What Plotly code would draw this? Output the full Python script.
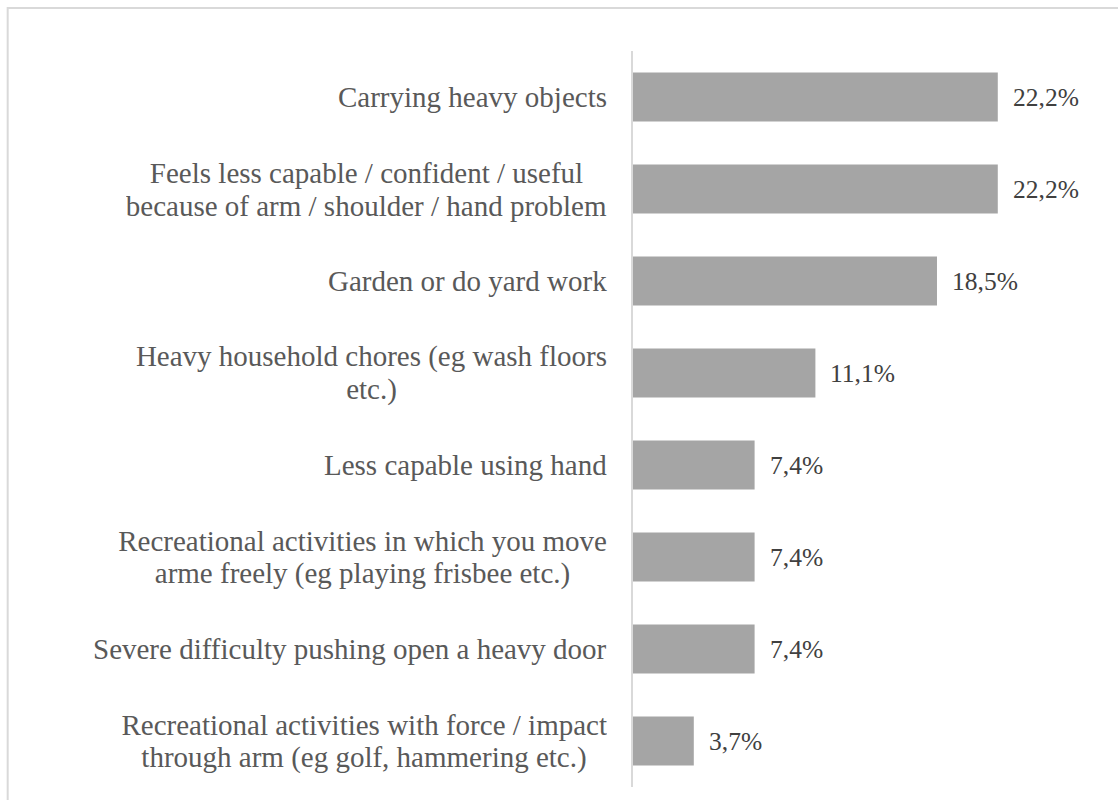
import plotly.graph_objects as go

# Share of respondents reporting each limitation (%)
categories = [
    "Carrying heavy objects",
    "Feels less capable / confident / useful<br>because of arm / shoulder / hand problem",
    "Garden or do yard work",
    "Heavy household chores (eg wash floors<br>etc.)",
    "Less capable using hand",
    "Recreational activities in which you move<br>arme freely (eg playing frisbee etc.)",
    "Severe difficulty pushing open a heavy door",
    "Recreational activities with force / impact<br>through arm (eg golf, hammering etc.)",
]
values = [22.2, 22.2, 18.5, 11.1, 7.4, 7.4, 7.4, 3.7]

FONT = "Liberation Serif"
BAR_COLOR = "#a5a5a5"
LINE_COLOR = "#d9d9d9"
CAT_SIZE = 29
VAL_SIZE = 25.5
LINE_GAP = 16.5          # half the distance between wrapped label lines (px)
LABEL_RIGHT_SHIFT = -24  # label block right edge relative to the axis (px)
# approximate rendered width of the widest line in each wrapped label (px)
WRAP_WIDTH = {1: 481, 3: 471, 5: 489, 7: 486}

fig = go.Figure(
    go.Bar(
        x=values,
        y=list(range(len(categories))),
        orientation="h",
        marker=dict(color=BAR_COLOR, line=dict(width=0)),
        hoverinfo="skip",
    )
)

cat_font = dict(family=FONT, size=CAT_SIZE, color="#595959")
annotations = []
# Category labels: right edge next to the axis, wrapped lines centred on each other
for i, cat in enumerate(categories):
    lines = cat.split("<br>")
    if len(lines) == 1:
        annotations.append(
            dict(
                x=0, xref="paper", y=i, yref="y", text=cat, showarrow=False,
                xanchor="right", yanchor="middle", xshift=LABEL_RIGHT_SHIFT,
                font=cat_font,
            )
        )
        continue
    longest = max(range(len(lines)), key=lambda k: len(lines[k]))
    n = len(lines)
    for k, line in enumerate(lines):
        annotations.append(
            dict(
                x=0, xref="paper", y=i, yref="y", text=line, showarrow=False,
                xanchor="right", yanchor="middle",
                width=WRAP_WIDTH[i],
                align="right" if k == longest else "center",
                xshift=LABEL_RIGHT_SHIFT,
                yshift=LINE_GAP * (n - 1 - 2 * k),
                font=cat_font,
            )
        )
# Value labels just past the end of each bar
for i, v in enumerate(values):
    annotations.append(
        dict(
            x=v, xref="x", y=i, yref="y",
            text=f"{v:.1f}".replace(".", ",") + "%",
            showarrow=False,
            xanchor="left", yanchor="middle",
            xshift=13,
            font=dict(family=FONT, size=VAL_SIZE, color="#404040"),
        )
    )

fig.update_layout(
    width=1118,
    height=800,
    margin=dict(l=633, r=18, t=51, b=13),
    paper_bgcolor="white",
    plot_bgcolor="white",
    bargap=0.47,
    showlegend=False,
    annotations=annotations,
    shapes=[
        # chart frame
        dict(
            type="rect", xref="paper", yref="paper",
            x0=-1.339, x1=1.2, y0=-0.1, y1=1.0584,
            line=dict(color=LINE_COLOR, width=2),
            fillcolor="rgba(0,0,0,0)", layer="below",
        )
    ],
    xaxis=dict(
        range=[0, 28.42], visible=False, showgrid=False, zeroline=False,
    ),
    yaxis=dict(
        range=[len(categories) - 0.5, -0.5],
        showticklabels=False, showgrid=False, zeroline=False,
        showline=True, linecolor=LINE_COLOR, linewidth=1.5, ticks="",
    ),
)

fig.write_html("out.html")
